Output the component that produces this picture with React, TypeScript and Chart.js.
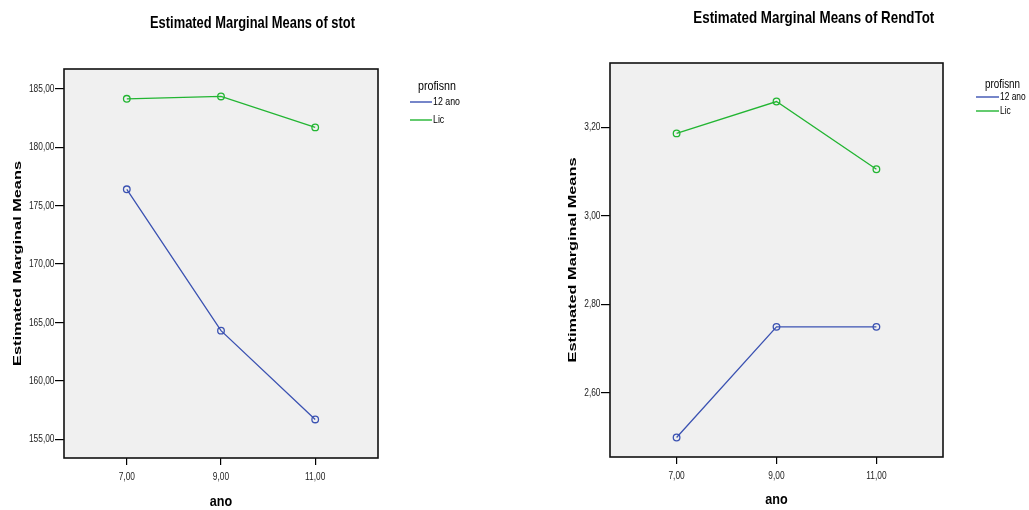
import React, { useEffect, useRef } from 'react';
import { Chart, registerables } from 'chart.js';

Chart.register(...registerables);

// ---- data ----
const anoValues = [7, 9, 11];
const anoTickLabels = ['7,00', '9,00', '11,00'];
const groupNames = ['12 ano', 'Lic'];
const legendTitle = 'profisnn';

const stotTitle = 'Estimated Marginal Means of stot';
const stotAno12 = [176.4, 164.3, 156.7];
const stotLic = [184.15, 184.35, 181.7];
const stotTicks = [155, 160, 165, 170, 175, 180, 185];
const stotTickLabels = ['155,00', '160,00', '165,00', '170,00', '175,00', '180,00', '185,00'];

const rendTitle = 'Estimated Marginal Means of RendTot';
const rendAno12 = [2.499, 2.749, 2.749];
const rendLic = [3.186, 3.258, 3.105];
const rendTicks = [2.6, 2.8, 3.0, 3.2];
const rendTickLabels = ['2,60', '2,80', '3,00', '3,20'];

const yAxisTitle = 'Estimated Marginal Means';
const xAxisTitle = 'ano';

// ---- styles ----
const BLUE = '#3b52b2';
const GREEN = '#22b532';
const FONT = '"Liberation Sans", Arial, sans-serif';
const SQ = 0.76; // horizontal squeeze of the reference's lettering

type Spec = {
  title: string;
  ano12: number[];
  lic: number[];
  yTicks: number[];
  yTickLabels: string[];
  yMin: number;
  yMax: number;
  width: number;
  yAxisWidth: number;
  xAxisHeight: number;
  padTop: number;
  padRight: number;
  yTitleX: number;
  xTitleY: number;
  titleCx: number;
  titleBaseline: number;
  titleWidth: number;
  legend: { titleX: number; titleY: number; lineX: number; lineLen: number; rowY: number[]; titleSize: number; labelSize: number };
};

function squeezed(ctx: any, text: string, x: number, y: number, font: string, sx: number, align: 'left' | 'right' | 'center') {
  ctx.save();
  ctx.font = font;
  ctx.textBaseline = 'middle';
  ctx.textAlign = 'left';
  const w = ctx.measureText(text).width;
  ctx.translate(x, y);
  ctx.scale(sx, 1);
  const ox = align === 'left' ? 0 : align === 'right' ? -w : -w / 2;
  ctx.fillText(text, ox, 0);
  ctx.restore();
}

const framePlugin = {
  id: 'frame',
  beforeDraw(chart: any) {
    const { ctx, chartArea: a } = chart;
    ctx.save();
    ctx.fillStyle = '#f0f0f0';
    ctx.fillRect(a.left, a.top, a.right - a.left, a.bottom - a.top);
    ctx.restore();
  },
  beforeDatasetsDraw(chart: any) {
    const { ctx, chartArea: a } = chart;
    ctx.save();
    ctx.strokeStyle = '#111';
    ctx.lineWidth = 1.6;
    ctx.strokeRect(a.left, a.top, a.right - a.left, a.bottom - a.top);
    ctx.restore();
  },
};

const textPlugin = {
  id: 'texts',
  afterDraw(chart: any, _args: any, opts: any) {
    const { ctx, chartArea: a } = chart;
    const spec: Spec = opts.spec;
    if (!spec) return;
    const xs = chart.scales.x;
    const ys = chart.scales.y;

    // chart title
    ctx.save();
    ctx.font = 'bold 17px ' + FONT;
    ctx.fillStyle = '#000';
    ctx.textBaseline = 'alphabetic';
    const w = ctx.measureText(spec.title).width;
    ctx.translate(spec.titleCx, spec.titleBaseline);
    ctx.scale(spec.titleWidth / w, 1);
    ctx.fillText(spec.title, -w / 2, 0);
    ctx.restore();

    ctx.save();
    ctx.fillStyle = '#222';
    // y tick labels
    spec.yTicks.forEach((v, i) => {
      squeezed(ctx, spec.yTickLabels[i], a.left - 9.5, ys.getPixelForValue(v), '11px ' + FONT, SQ, 'right');
    });
    // x tick labels
    anoValues.forEach((v, i) => {
      squeezed(ctx, anoTickLabels[i], xs.getPixelForValue(v), a.bottom + 19, '11px ' + FONT, SQ, 'center');
    });
    ctx.fillStyle = '#000';
    // x axis title
    squeezed(ctx, xAxisTitle, (a.left + a.right) / 2, spec.xTitleY, 'bold 15px ' + FONT, 0.84, 'center');
    // y axis title (rotated)
    ctx.save();
    ctx.font = 'bold 16px ' + FONT;
    ctx.textBaseline = 'middle';
    const yw = ctx.measureText(yAxisTitle).width;
    ctx.translate(spec.yTitleX, (a.top + a.bottom) / 2);
    ctx.rotate(-Math.PI / 2);
    ctx.scale(205 / yw, 0.72);
    ctx.fillText(yAxisTitle, -yw / 2, 0);
    ctx.restore();
    ctx.restore();

    // legend
    const L = spec.legend;
    ctx.save();
    ctx.fillStyle = '#000';
    squeezed(ctx, legendTitle, L.titleX, L.titleY, L.titleSize + 'px ' + FONT, 0.82, 'left');
    chart.data.datasets.forEach((ds: any, i: number) => {
      const y = L.rowY[i];
      ctx.strokeStyle = ds.borderColor;
      ctx.lineWidth = 1.4;
      ctx.beginPath();
      ctx.moveTo(L.lineX, y);
      ctx.lineTo(L.lineX + L.lineLen, y);
      ctx.stroke();
      squeezed(ctx, ds.label, L.lineX + L.lineLen + 1, y, L.labelSize + 'px ' + FONT, 0.8, 'left');
    });
    ctx.restore();
  },
};

function makeConfig(spec: Spec): any {
  const mk = (label: string, vals: number[], color: string) => ({
    label,
    data: anoValues.map((x, i) => ({ x, y: vals[i] })),
    borderColor: color,
    backgroundColor: color,
    borderWidth: 1.3,
    pointRadius: 3.3,
    pointBorderWidth: 1.3,
    pointBackgroundColor: 'rgba(0,0,0,0)',
    pointBorderColor: color,
    pointStyle: 'circle',
    tension: 0,
  });
  return {
    type: 'line',
    data: {
      datasets: [mk(groupNames[0], spec.ano12, BLUE), mk(groupNames[1], spec.lic, GREEN)],
    },
    plugins: [framePlugin, textPlugin],
    options: {
      animation: false,
      responsive: false,
      maintainAspectRatio: false,
      layout: { padding: { top: spec.padTop, right: spec.padRight, left: 0, bottom: 0 } },
      plugins: {
        legend: { display: false },
        title: { display: false },
        tooltip: { enabled: false },
        texts: { spec },
      },
      scales: {
        x: {
          type: 'linear',
          min: 5.667,
          max: 12.333,
          afterBuildTicks: (s: any) => {
            s.ticks = anoValues.map((v) => ({ value: v }));
          },
          afterFit: (s: any) => {
            s.height = spec.xAxisHeight;
          },
          ticks: { display: false },
          grid: { display: true, drawOnChartArea: false, drawTicks: true, tickLength: 7, color: '#000', lineWidth: 1.2 },
          border: { display: false },
        },
        y: {
          type: 'linear',
          min: spec.yMin,
          max: spec.yMax,
          afterBuildTicks: (s: any) => {
            s.ticks = spec.yTicks.map((v) => ({ value: v }));
          },
          afterFit: (s: any) => {
            s.width = spec.yAxisWidth;
          },
          ticks: { display: false },
          grid: { display: true, drawOnChartArea: false, drawTicks: true, tickLength: 9, color: '#000', lineWidth: 1.2 },
          border: { display: false },
        },
      },
    },
  };
}

const leftSpec: Spec = {
  title: stotTitle,
  ano12: stotAno12,
  lic: stotLic,
  yTicks: stotTicks,
  yTickLabels: stotTickLabels,
  yMin: 153.4,
  yMax: 186.7,
  width: 515,
  yAxisWidth: 64,
  xAxisHeight: 52,
  padTop: 69,
  padRight: 137,
  yTitleX: 17.5,
  xTitleY: 502,
  titleCx: 252.5,
  titleBaseline: 27.5,
  titleWidth: 205,
  legend: { titleX: 418, titleY: 86, lineX: 410, lineLen: 22, rowY: [102, 120], titleSize: 13, labelSize: 11 },
};

const rightSpec: Spec = {
  title: rendTitle,
  ano12: rendAno12,
  lic: rendLic,
  yTicks: rendTicks,
  yTickLabels: rendTickLabels,
  yMin: 2.455,
  yMax: 3.345,
  width: 514,
  yAxisWidth: 95,
  xAxisHeight: 53,
  padTop: 63,
  padRight: 86,
  yTitleX: 57.5,
  xTitleY: 500,
  titleCx: 813.8 - 515,
  titleBaseline: 22.5,
  titleWidth: 241,
  legend: { titleX: 470, titleY: 85, lineX: 461, lineLen: 23, rowY: [97, 111], titleSize: 12, labelSize: 10.5 },
};

function ChartBox({ spec, left }: { spec: Spec; left: number }) {
  const ref = useRef<HTMLCanvasElement | null>(null);
  useEffect(() => {
    if (!ref.current) return;
    const chart = new Chart(ref.current, makeConfig(spec));
    return () => chart.destroy();
  }, [spec]);
  return (
    <canvas
      ref={ref}
      width={spec.width}
      height={510}
      style={{ position: 'absolute', left, top: 0, width: spec.width, height: 510 }}
    />
  );
}

export default function App() {
  return (
    <div style={{ position: 'absolute', left: 0, top: 0, width: 1029, height: 510, background: '#fff', overflow: 'hidden' }}>
      <ChartBox spec={leftSpec} left={0} />
      <ChartBox spec={rightSpec} left={515} />
    </div>
  );
}
